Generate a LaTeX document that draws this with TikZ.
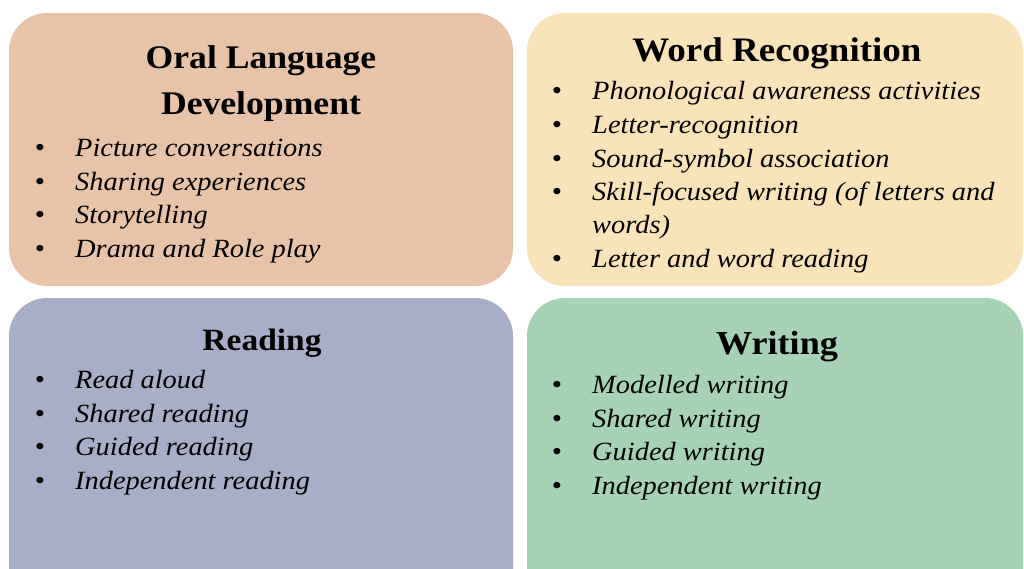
\documentclass[tikz,border=0pt]{standalone}
\usepackage{fontspec}
\setmainfont[FakeStretch=1.08]{Liberation Serif}
\definecolor{oralc}{HTML}{E8C3A8}
\definecolor{wordc}{HTML}{F9E4B9}
\definecolor{readc}{HTML}{A8ADC8}
\definecolor{writc}{HTML}{A6D2B5}
\tikzset{
  panel/.style={rounded corners=38pt},
  ttl/.style={anchor=base,inner sep=0pt,font=\fontsize{#1}{40}\selectfont\bfseries},
  itm/.style={anchor=base west,inner sep=0pt,font=\fontsize{26.3}{30}\selectfont\itshape},
  bul/.style={anchor=base,inner sep=0pt,font=\fontsize{27}{30}\selectfont},
}
\begin{document}
\begin{tikzpicture}[x=1pt,y=-1pt]
\useasboundingbox (0,0) rectangle (1024,568);
\clip (0,0) rectangle (1024,568);
\fill[white] (0,0) rectangle (1024,568);
\fill[oralc,panel] (9,13) rectangle (513,286);
\fill[wordc,panel] (527,13) rectangle (1023,286);
\fill[readc,panel] (9,298) rectangle (513,610);
\fill[writc,panel] (527,298) rectangle (1023,610);
% Oral Language
\node[ttl=33] (o1) at (261,68) {Oral Language};
\node[ttl=33] (o2) at (261,114) {Development};
\foreach \y/\t [count=\i] in {156/Picture conversations,190/Sharing experiences,223/Storytelling,257/Drama and Role play}{
  \node[bul] (ob\i) at (40,\y) {\textbullet};
  \node[itm] (oi\i) at (75,\y) {\t};
}
% Word Recognition
\node[ttl=34.3] (w1) at (777,61) {Word Recognition};
\foreach \y/\t [count=\i] in {99/Phonological awareness activities,133/Letter-recognition,167/Sound-symbol association,200/Skill-focused writing (of letters and,267/Letter and word reading}{
  \node[bul] (wb\i) at (557,\y) {\textbullet};
  \node[itm] (wi\i) at (592,\y) {\t};
}
\node[itm] (wi6) at (592,233) {words)};
% Reading
\node[ttl=31] (r1) at (262,350) {Reading};
\foreach \y/\t [count=\i] in {388/Read aloud,422/Shared reading,455/Guided reading,489/Independent reading}{
  \node[bul] (rb\i) at (40,\y) {\textbullet};
  \node[itm] (ri\i) at (75,\y) {\t};
}
% Writing
\node[ttl=33.5] (g1) at (777,354) {Writing};
\foreach \y/\t [count=\i] in {393/Modelled writing,427/Shared writing,460/Guided writing,494/Independent writing}{
  \node[bul] (gb\i) at (557,\y) {\textbullet};
  \node[itm] (gi\i) at (592,\y) {\t};
}
\end{tikzpicture}
\end{document}
